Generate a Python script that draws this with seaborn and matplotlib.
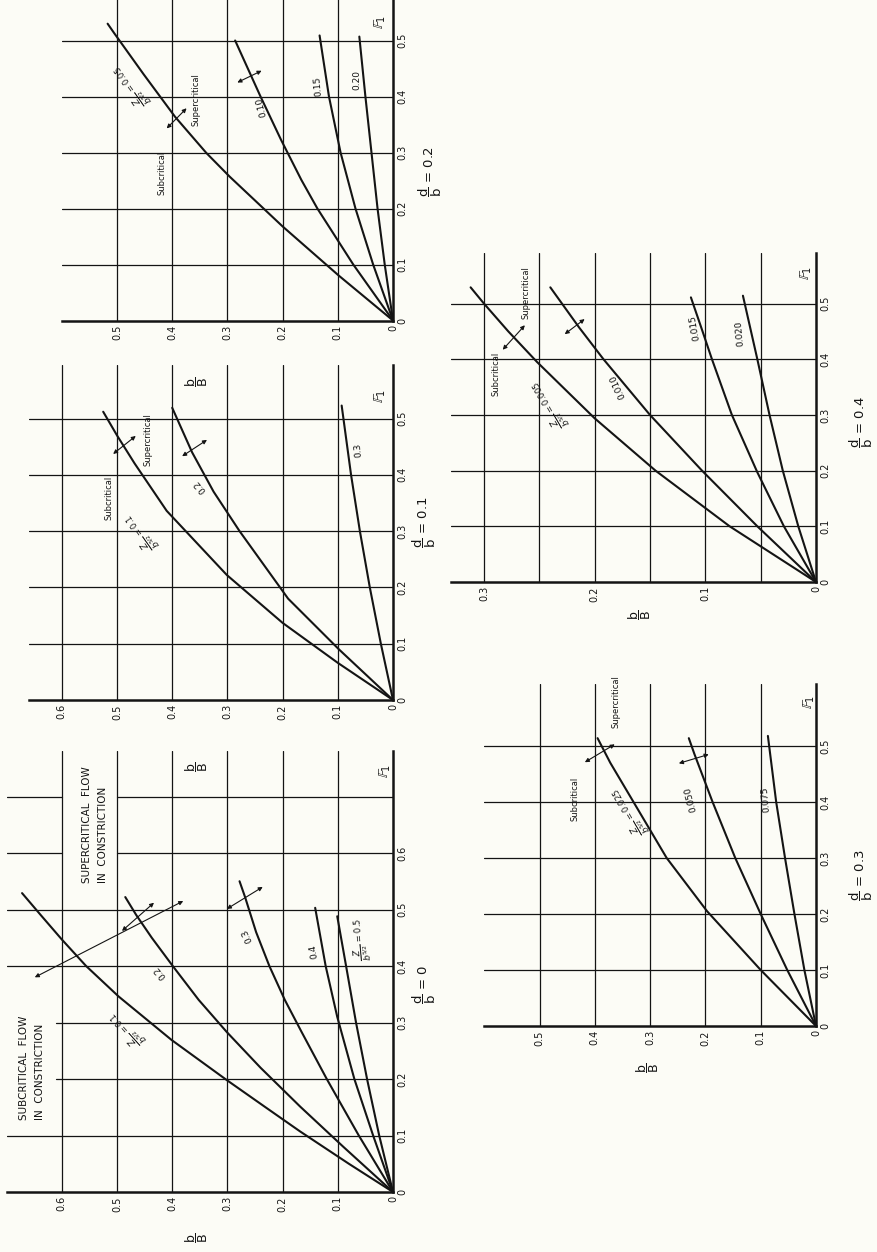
import matplotlib
matplotlib.use("Agg")
import matplotlib.pyplot as plt
import seaborn as sns

sns.set_theme(style="white")
plt.rcParams["font.family"] = ["DejaVu Sans"]
plt.rcParams["mathtext.fontset"] = "dejavusans"

W, H = 878, 1252
INK = "#141414"
PAPER = "#fcfcf6"

# ---- values: F1 (Froude number) and b/B along each curve ----
# d/b = 0
d00_z = ["0.1", "0.2", "0.3", "0.4", "0.5"]
d00_f1 = [
    [0, 0.05, 0.107, 0.15, 0.198, 0.269, 0.346, 0.40, 0.447, 0.49, 0.529],
    [0, 0.08, 0.151, 0.22, 0.283, 0.34, 0.40, 0.45, 0.49, 0.522],
    [0, 0.1, 0.2, 0.284, 0.34, 0.40, 0.46, 0.522, 0.55],
    [0, 0.1, 0.2, 0.31, 0.40, 0.503],
    [0, 0.1, 0.2, 0.3, 0.4, 0.488],
]
d00_bb = [
    [0, 0.080, 0.168, 0.231, 0.301, 0.401, 0.497, 0.556, 0.600, 0.638, 0.672],
    [0, 0.090, 0.168, 0.240, 0.301, 0.352, 0.399, 0.437, 0.465, 0.485],
    [0, 0.062, 0.120, 0.166, 0.196, 0.224, 0.248, 0.268, 0.278],
    [0, 0.036, 0.070, 0.101, 0.122, 0.141],
    [0, 0.025, 0.047, 0.067, 0.085, 0.101],
]

# d/b = 0.1
d01_z = ["0.1", "0.2", "0.3"]
d01_f1 = [
    [0, 0.066, 0.137, 0.222, 0.336, 0.42, 0.47, 0.512],
    [0, 0.09, 0.18, 0.30, 0.37, 0.44, 0.519],
    [0, 0.1, 0.2, 0.3, 0.4, 0.523],
]
d01_bb = [
    [0, 0.1, 0.2, 0.301, 0.41, 0.468, 0.5, 0.525],
    [0, 0.098, 0.19, 0.278, 0.325, 0.364, 0.40],
    [0, 0.022, 0.042, 0.06, 0.076, 0.093],
]

# d/b = 0.2
d02_z = ["0.05", "0.10", "0.15", "0.20"]
d02_f1 = [
    [0, 0.08, 0.168, 0.257, 0.299, 0.364, 0.44, 0.513, 0.53],
    [0, 0.1, 0.2, 0.251, 0.323, 0.4, 0.5],
    [0, 0.1, 0.2, 0.3, 0.4, 0.509],
    [0, 0.1, 0.2, 0.3, 0.4, 0.507],
]
d02_bb = [
    [0, 0.098, 0.2, 0.296, 0.338, 0.395, 0.452, 0.505, 0.517],
    [0, 0.072, 0.137, 0.166, 0.203, 0.24, 0.286],
    [0, 0.036, 0.068, 0.095, 0.116, 0.133],
    [0, 0.015, 0.028, 0.039, 0.05, 0.061],
]

# d/b = 0.3
d03_z = ["0.025", "0.050", "0.075"]
d03_f1 = [
    [0, 0.1, 0.205, 0.3, 0.4, 0.47, 0.514],
    [0, 0.1, 0.2, 0.3, 0.4, 0.486, 0.514],
    [0, 0.1, 0.2, 0.3, 0.4, 0.518],
]
d03_bb = [
    [0, 0.1, 0.197, 0.27, 0.33, 0.372, 0.395],
    [0, 0.052, 0.1, 0.146, 0.187, 0.22, 0.23],
    [0, 0.021, 0.039, 0.056, 0.072, 0.087],
]

# d/b = 0.4
d04_z = ["0.005", "0.010", "0.015", "0.020"]
d04_f1 = [
    [0, 0.1, 0.2, 0.294, 0.395, 0.45, 0.5, 0.529],
    [0, 0.1, 0.2, 0.3, 0.4, 0.457, 0.529],
    [0, 0.1, 0.197, 0.3, 0.4, 0.453, 0.511],
    [0, 0.1, 0.2, 0.3, 0.4, 0.514],
]
d04_bb = [
    [0, 0.078, 0.145, 0.2, 0.252, 0.278, 0.3, 0.312],
    [0, 0.053, 0.103, 0.15, 0.192, 0.214, 0.24],
    [0, 0.029, 0.053, 0.076, 0.094, 0.103, 0.113],
    [0, 0.016, 0.03, 0.042, 0.053, 0.066],
]

bb_ticks_a = [0, 0.1, 0.2, 0.3, 0.4, 0.5, 0.6]
f1_ticks_a = [0, 0.1, 0.2, 0.3, 0.4, 0.5, 0.6]


def fig_xy(x, y):
    return x / W, 1 - y / H


def make_panel(fig, x0, s_bb, y0, s_f1, bb_max, f1_max):
    # the page is printed sideways: b/B runs right-to-left, F1 runs upward
    left = (x0 - bb_max * s_bb) / W
    ax = fig.add_axes([left, (H - y0) / H, bb_max * s_bb / W, f1_max * s_f1 / H])
    ax.patch.set_alpha(0)
    for side in ["top", "left"]:
        ax.spines[side].set_visible(False)
    for side in ["bottom", "right"]:
        ax.spines[side].set_linewidth(1.8)
        ax.spines[side].set_color(INK)
    ax.yaxis.tick_right()
    ax.tick_params(length=0, pad=3, labelsize=7, colors=INK)
    return ax


def finish(ax, bb_max, f1_max, bb_grid, f1_grid, bb_lab, f1_lab, f1_spans=None):
    f1_spans = f1_spans or {}
    for v in bb_grid:
        ax.plot([v, v], [0, f1_max], color=INK, lw=0.9, zorder=1)
    for v in f1_grid:
        # grid rows are broken where the original lettering sits
        for a, b in f1_spans.get(v, [(0, bb_max)]):
            ax.plot([a, b], [v, v], color=INK, lw=0.9, zorder=1)
    ax.set_xlim(bb_max, 0)
    ax.set_ylim(0, f1_max)
    ax.set_xticks(bb_lab)
    ax.set_xticklabels([("0" if t == 0 else f"{t:g}") for t in bb_lab], rotation=90)
    ax.set_yticks(f1_lab)
    ax.set_yticklabels([("0" if t == 0 else f"{t:g}") for t in f1_lab], rotation=90, va="center")
    ax.set_xlabel("")
    ax.set_ylabel("")
    ax.grid(False)


def curves(ax, f1s, bbs):
    for f1, bb in zip(f1s, bbs):
        sns.lineplot(x=bb, y=f1, ax=ax, sort=False, estimator=None, color=INK, lw=1.5, zorder=3)


def note(ax, bb, f1, s, rot=90, size=6.5):
    ax.text(bb, f1, s, rotation=rot, rotation_mode="anchor", ha="center", va="center",
            fontsize=size, color=INK, zorder=4)


def arrow(ax, a, b):
    ax.annotate("", xy=a, xytext=b,
                arrowprops=dict(arrowstyle="<|-|>", color=INK, lw=0.8, mutation_scale=6,
                                shrinkA=0, shrinkB=0), zorder=4)


def frac(a, b):
    return r"$\genfrac{}{}{0.5}{0}{\mathregular{" + a + r"}}{\mathregular{" + b + r"}}$"


def zlab(v):
    return r"$\genfrac{}{}{0.5}{0}{Z}{b^{5/2}}$ = " + v


fig = plt.figure(figsize=(W / 100, H / 100), dpi=100)
fig.patch.set_facecolor(PAPER)

# ---------- d/b = 0 ----------
ax0 = make_panel(fig, 393, 552, 1192, 565, 0.70, 0.78)
curves(ax0, d00_f1, d00_bb)
finish(ax0, 0.70, 0.78, bb_ticks_a[1:], [0.1, 0.2, 0.3, 0.4, 0.5, 0.6, 0.7], bb_ticks_a, f1_ticks_a,
       f1_spans={0.2: [(0, 0.61)], 0.3: [(0, 0.61)],
                 0.6: [(0, 0.5), (0.6, 0.7)], 0.7: [(0, 0.5), (0.6, 0.7)]})
note(ax0, 0.482, 0.290, zlab(d00_z[0]), 132, 6)
note(ax0, 0.422, 0.39, d00_z[1], 130)
note(ax0, 0.265, 0.454, d00_z[2], 115)
note(ax0, 0.144, 0.426, d00_z[3], 100)
note(ax0, 0.058, 0.447, zlab(d00_z[4]), 95, 6)
ax0.text(0.654, 0.127, "SUBCRITICAL  FLOW\nIN  CONSTRICTION", rotation=90, rotation_mode="anchor",
         ha="left", va="center", fontsize=7.5, color=INK, linespacing=1.8)
ax0.text(0.54, 0.547, "SUPERCRITICAL  FLOW\nIN  CONSTRICTION", rotation=90, rotation_mode="anchor",
         ha="left", va="center", fontsize=7.5, color=INK, linespacing=1.8)
arrow(ax0, (0.649, 0.380), (0.38, 0.515))
arrow(ax0, (0.491, 0.462), (0.433, 0.512))
arrow(ax0, (0.301, 0.501), (0.236, 0.540))

# ---------- d/b = 0.1 ----------
ax1 = make_panel(fig, 393, 552, 700, 563, 0.66, 0.595)
curves(ax1, d01_f1, d01_bb)
finish(ax1, 0.66, 0.595, bb_ticks_a[1:], [0.1, 0.2, 0.3, 0.4, 0.5], bb_ticks_a, f1_ticks_a[:6])
note(ax1, 0.514, 0.359, "Subcritical", 90, 6)
note(ax1, 0.444, 0.462, "Supercritical", 90, 6)
note(ax1, 0.455, 0.300, zlab(d01_z[0]), 125, 6)
note(ax1, 0.35, 0.38, d01_z[1], 130)
note(ax1, 0.063, 0.444, d01_z[2], 95)
arrow(ax1, (0.507, 0.437), (0.466, 0.469))
arrow(ax1, (0.382, 0.433), (0.337, 0.462))

# ---------- d/b = 0.2 ----------
ax2 = make_panel(fig, 393, 552, 320.5, 560, 0.60, 0.575)
curves(ax2, d02_f1, d02_bb)
finish(ax2, 0.60, 0.575, bb_ticks_a[1:6], [0.1, 0.2, 0.3, 0.4, 0.5], bb_ticks_a[:6], f1_ticks_a[:6])
note(ax2, 0.419, 0.263, "Subcritical", 90, 6)
note(ax2, 0.356, 0.394, "Supercritical", 90, 6)
note(ax2, 0.472, 0.420, zlab(d02_z[0]), 125, 6)
note(ax2, 0.238, 0.382, d02_z[1], 105)
note(ax2, 0.136, 0.419, d02_z[2], 95)
note(ax2, 0.065, 0.43, d02_z[3], 90)
arrow(ax2, (0.41, 0.343), (0.374, 0.379))
arrow(ax2, (0.282, 0.425), (0.238, 0.446))

# ---------- d/b = 0.3 ----------
ax3 = make_panel(fig, 816, 553, 1026, 560, 0.60, 0.61)
curves(ax3, d03_f1, d03_bb)
finish(ax3, 0.60, 0.61, bb_ticks_a[1:6], [0.1, 0.2, 0.3, 0.4, 0.5], bb_ticks_a[:6], f1_ticks_a[:6])
note(ax3, 0.436, 0.406, "Subcritical", 90, 6)
note(ax3, 0.362, 0.579, "Supercritical", 90, 6)
note(ax3, 0.337, 0.384, zlab(d03_z[0]), 120, 6)
note(ax3, 0.226, 0.405, d03_z[1], 105)
note(ax3, 0.09, 0.405, d03_z[2], 95)
arrow(ax3, (0.418, 0.471), (0.364, 0.503))
arrow(ax3, (0.248, 0.469), (0.194, 0.485))

# ---------- d/b = 0.4 ----------
ax4 = make_panel(fig, 816, 1107, 582, 557, 0.33, 0.59)
curves(ax4, d04_f1, d04_bb)
finish(ax4, 0.33, 0.59, [0.05, 0.1, 0.15, 0.2, 0.25, 0.3], [0.1, 0.2, 0.3, 0.4, 0.5],
       [0, 0.1, 0.2, 0.3], f1_ticks_a[:6])
note(ax4, 0.289, 0.374, "Subcritical", 90, 6)
note(ax4, 0.262, 0.519, "Supercritical", 90, 6)
note(ax4, 0.240, 0.320, zlab(d04_z[0]), 120, 6)
note(ax4, 0.179, 0.352, d04_z[1], 115)
note(ax4, 0.11, 0.457, d04_z[2], 100)
note(ax4, 0.069, 0.446, d04_z[3], 95)
arrow(ax4, (0.283, 0.417), (0.263, 0.461))
arrow(ax4, (0.227, 0.445), (0.209, 0.472))

# ---------- panel captions and axis names (page is turned sideways) ----------
captions = [(424, 984, "0"), (424, 522, "0.1"), (430, 172, "0.2"), (861, 875, "0.3"), (861, 422, "0.4")]
for x, y, v in captions:
    fx, fy = fig_xy(x, y)
    fig.text(fx, fy, frac("d", "b") + " = " + v, rotation=90, ha="center", va="center",
             fontsize=9.5, color=INK)

for x, y in [(197, 1238), (197, 767), (197, 382), (648, 1068), (640, 615)]:
    fx, fy = fig_xy(x, y)
    fig.text(fx, fy, frac("b", "B"), rotation=90, ha="center", va="center", fontsize=9, color=INK)

for x, y in [(385, 771), (380, 396), (380, 22), (809, 702), (806, 273)]:
    fx, fy = fig_xy(x, y)
    fig.text(fx, fy, r"$\mathbb{F}_1$", rotation=90, ha="center", va="center", fontsize=10, color=INK)

fig.savefig("out.png", dpi=100, facecolor=PAPER)
